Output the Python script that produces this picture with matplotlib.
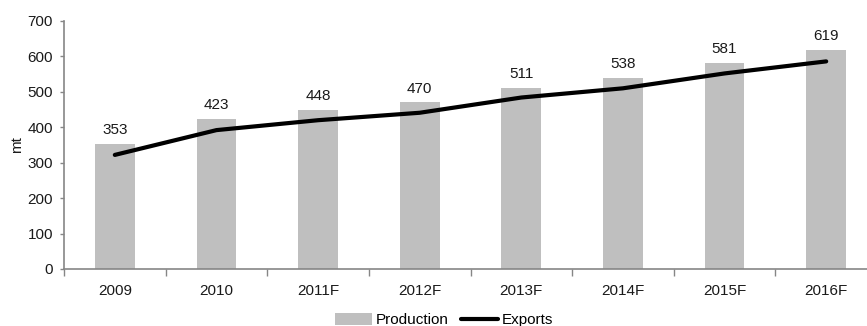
import numpy as np
import matplotlib.pyplot as plt
from matplotlib.ticker import FixedLocator

plt.rcParams['font.family'] = ['Liberation Sans', 'DejaVu Sans']

# Данные
years = ['2009', '2010', '2011F', '2012F', '2013F', '2014F', '2015F', '2016F']
production = [353, 423, 448, 470, 511, 538, 581, 619]
exports = [322, 392, 420, 441, 484, 510, 552, 586]

axis_color = '#868686'
bar_color = '#BFBFBF'
text_color = '#1a1a1a'
fs = 11

fig = plt.figure(figsize=(8.67, 3.26), dpi=100)
# правый край оси выходит за пределы картинки
ax = fig.add_axes([64 / 867, 1 - 269 / 326, 813 / 867, 248 / 326])

x = np.arange(len(years))
bars = ax.bar(x, production, width=0.39, color=bar_color, label='Production', zorder=2)
line, = ax.plot(x, exports, color='black', lw=3, solid_capstyle='round', label='Exports', zorder=3)

# Подписи над столбцами
for xi, val in zip(x, production):
    ax.annotate(str(val), (xi, val), xytext=(0, 5), textcoords='offset points',
                ha='center', va='bottom', fontsize=fs, color=text_color)

ax.set_xlim(-0.5, len(years) - 0.5)
ax.set_ylim(0, 700)
ax.set_yticks(np.arange(0, 701, 100))
ax.set_xticks(x)
ax.set_xticklabels(years)
ax.xaxis.set_minor_locator(FixedLocator(np.arange(-0.5, len(years), 1.0)))

ax.tick_params(axis='x', which='major', length=0, pad=11, labelsize=fs, colors=text_color)
ax.tick_params(axis='x', which='minor', length=5, width=1, color=axis_color, direction='out')
ax.tick_params(axis='y', length=3, width=1, color=axis_color, pad=5, labelsize=fs,
               labelcolor=text_color)

for side in ['top', 'right']:
    ax.spines[side].set_visible(False)
for side in ['left', 'bottom']:
    ax.spines[side].set_color(axis_color)
    ax.spines[side].set_linewidth(1.2)

ax.set_ylabel('mt', fontsize=fs, color=text_color)
ax.yaxis.set_label_coords(-40 / 813, 0.5)

fig.legend(handles=[bars, line], labels=['Production', 'Exports'],
           loc='center', bbox_to_anchor=(444 / 867, 1 - 320 / 326), ncol=2, frameon=False,
           fontsize=fs, handlelength=2.4, handletextpad=0.25, columnspacing=0.8,
           handleheight=0.9, borderpad=0, borderaxespad=0)

fig.savefig('out.png', dpi=100)
